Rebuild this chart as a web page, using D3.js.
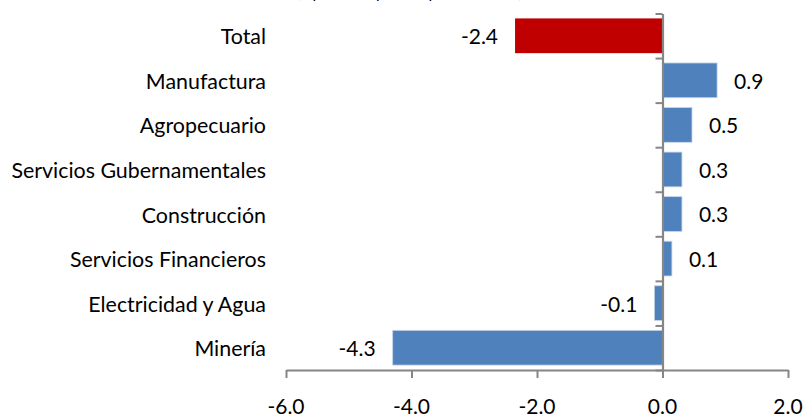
<!DOCTYPE html>
<html lang="es">
<head>
  <meta charset="UTF-8" />
  <title>Aporte por sector</title>
  <script src="https://d3js.org/d3.v7.min.js"></script>
  <style>
    body {
      margin: 0;
      background: #fff;
      font-family: Lato, "Open Sans", sans-serif;
    }
    svg { display: block; }
    .cat-label { font-size: 21.4px; fill: #000; }
    .val-label, .tick-label { font-size: 21px; fill: #000; }
  </style>
</head>
<body>
  <svg id="chart"></svg>

  <script>
    const sectores = ["Total", "Manufactura", "Agropecuario", "Servicios Gubernamentales",
                      "Construcción", "Servicios Financieros", "Electricidad y Agua", "Minería"];
    const aportes  = [-2.35, 0.87, 0.47, 0.31, 0.31, 0.15, -0.13, -4.3];
    const etiquetas = ["-2.4", "0.9", "0.5", "0.3", "0.3", "0.1", "-0.1", "-4.3"];
    const xTicks = [-6, -4, -2, 0, 2];

    const W = 808, H = 418;
    const svg = d3.select("#chart").attr("width", W).attr("height", H);

    const x = d3.scaleLinear().domain([-6, 2]).range([286, 788]);
    const y = d3.scaleBand()
                .domain(sectores)
                .range([13.5, 370])
                .paddingInner(0.22)
                .paddingOuter(0.11);

    // title, mostly cut off above the frame (as in the source)
    svg.append("text")
       .attr("x", 410)
       .attr("y", -2)
       .attr("text-anchor", "middle")
       .attr("font-size", 16)
       .text("(Aporte en puntos porcentuales)");

    // bars
    svg.selectAll("rect.bar")
       .data(sectores)
       .join("rect")
       .attr("class", "bar")
       .attr("x", (d, i) => x(Math.min(0, aportes[i])))
       .attr("y", d => y(d))
       .attr("width", (d, i) => Math.abs(x(aportes[i]) - x(0)))
       .attr("height", y.bandwidth())
       .attr("fill", d => d === "Total" ? "#C00000" : "#4F81BD")
       .attr("stroke", d => d === "Total" ? "none" : "#C6D5EA")
       .attr("stroke-width", 0.8);

    // value labels
    svg.selectAll("text.val-label")
       .data(sectores)
       .join("text")
       .attr("class", "val-label")
       .attr("x", (d, i) => aportes[i] < 0 ? x(aportes[i]) - 17 : x(aportes[i]) + 17)
       .attr("y", d => y(d) + y.bandwidth() / 2 + 1)
       .attr("dy", "0.35em")
       .attr("text-anchor", (d, i) => aportes[i] < 0 ? "end" : "start")
       .text((d, i) => etiquetas[i]);

    // category labels
    svg.selectAll("text.cat-label")
       .data(sectores)
       .join("text")
       .attr("class", "cat-label")
       .attr("x", 266)
       .attr("y", d => y(d) + y.bandwidth() / 2 + 1)
       .attr("dy", "0.35em")
       .attr("text-anchor", "end")
       .text(d => d);

    // vertical axis at zero with ticks at the category boundaries
    const yb = d3.scaleLinear().domain([0, sectores.length]).range([13.5, 370]);
    const yAxis = svg.append("g")
       .attr("transform", `translate(${x(0)},0)`)
       .call(d3.axisLeft(yb).ticks(sectores.length).tickSize(7).tickSizeOuter(0).tickFormat(""));
    yAxis.select(".domain").attr("stroke", "#868686").attr("stroke-width", 2.2);
    yAxis.selectAll(".tick line").attr("stroke", "#868686").attr("stroke-width", 2);

    // bottom axis
    const xAxis = svg.append("g")
       .attr("transform", "translate(0,370)")
       .call(d3.axisBottom(x).tickValues(xTicks).tickSize(8).tickSizeOuter(0).tickFormat(""));
    xAxis.select(".domain").attr("stroke", "#868686").attr("stroke-width", 2);
    xAxis.selectAll(".tick line").attr("stroke", "#868686").attr("stroke-width", 2);

    svg.selectAll("text.tick-label")
       .data(xTicks)
       .join("text")
       .attr("class", "tick-label")
       .attr("x", d => x(d))
       .attr("y", 407)
       .attr("dy", "0.35em")
       .attr("text-anchor", "middle")
       .text(d => d.toFixed(1));
  </script>
</body>
</html>
